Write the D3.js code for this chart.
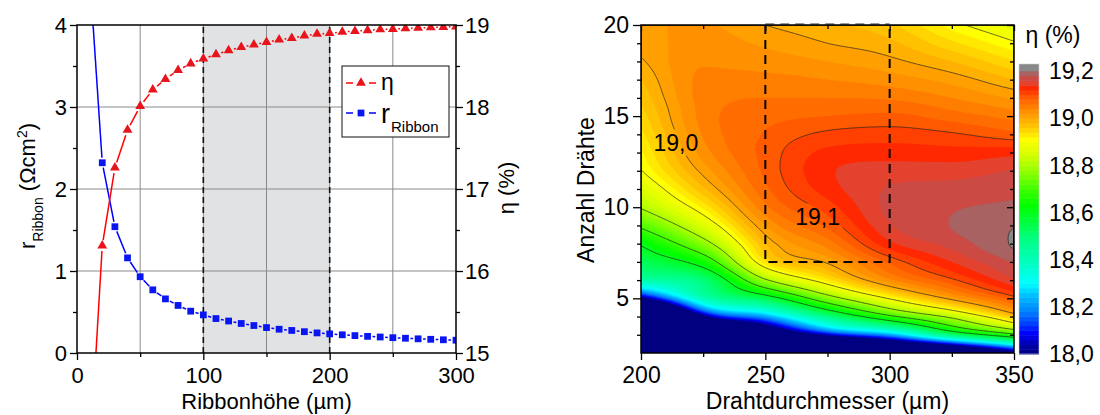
<!DOCTYPE html>
<html><head><meta charset="utf-8">
<script src="https://cdn.jsdelivr.net/npm/d3@7"></script>
<style>body{margin:0;background:#fff}svg{display:block;font-family:Arial,"Liberation Sans",sans-serif}</style>
</head><body><svg id="c" width="1100" height="415"></svg>
<script>
// ---------------- Left panel data ----------------
const ribbonHeights = [10,20,30,40,50,60,70,80,90,100,110,120,130,140,150,160,170,180,190,200,210,220,230,240,250,260,270,280,290,300];
const efficiency = [13.69,16.31,17.26,17.72,18.01,18.21,18.34,18.45,18.53,18.59,18.64,18.69,18.73,18.76,18.79,18.82,18.84,18.87,18.89,18.90,18.915,18.925,18.935,18.945,18.95,18.958,18.965,18.97,18.975,18.98];
const rRibbon = [4.63,2.32,1.54,1.16,0.93,0.77,0.66,0.58,0.51,0.465,0.42,0.39,0.36,0.335,0.31,0.29,0.275,0.26,0.245,0.233,0.222,0.212,0.203,0.195,0.187,0.18,0.173,0.167,0.161,0.156];
const leftXTicks = [0,100,200,300];
const leftXMinor = [50,150,250];
const leftYTicks = [0,1,2,3,4];
const leftYMinor = [0.5,1.5,2.5,3.5];
const etaAxisTicks = [15,16,17,18,19];
const etaAxisMinor = [15.5,16.5,17.5,18.5];
const shadedRange = [100,200];

// ---------------- Right panel data ----------------
const wireDiameters = [200,225,250,275,300,325,350];
const wireCounts = [2,3,4,5,6,7,8,9,10,11,12,13,14,15,16,17,18,19,20];
const eta_d200 = [13.0,15.3,16.9,17.98,18.42,18.53,18.61,18.715,18.805,18.855,18.898,18.917,18.934,18.95,18.965,18.98,18.997,19.008,19.018];
const eta_d225 = [15.8,17.0,17.97,18.4,18.5,18.645,18.77,18.86,18.925,18.975,19.008,19.03,19.042,19.048,19.048,19.044,19.038,19.03,19.022];
const eta_d250 = [16.8,17.7,18.22,18.55,18.79,18.935,18.98,19.02,19.055,19.075,19.085,19.087,19.082,19.072,19.06,19.046,19.031,19.016,19.0];
const eta_d275 = [16.9,18.05,18.48,18.76,18.93,19.005,19.05,19.085,19.11,19.13,19.136,19.125,19.105,19.08,19.06,19.04,19.02,19.0,18.985];
const eta_d300 = [17.4,18.22,18.68,18.905,19.035,19.085,19.135,19.158,19.166,19.162,19.15,19.13,19.11,19.085,19.057,19.03,19.006,18.985,18.965];
const eta_d325 = [17.6,18.5,18.82,19.01,19.095,19.14,19.168,19.181,19.178,19.168,19.15,19.128,19.103,19.07,19.04,19.012,18.98,18.945,18.91];
const eta_d350 = [17.95,18.68,18.97,19.09,19.158,19.183,19.203,19.199,19.184,19.175,19.162,19.133,19.086,19.052,19.017,18.98,18.942,18.904,18.868];
const contourLineLevels = [18.6,18.7,18.8,18.9,19.0,19.1,19.2];
const contourLabels = [{text:"19,0", d:214, n:13.55},{text:"19,1", d:271, n:9.5}];
const rightXTicks = [200,250,300,350];
const rightXMinor = [225,275,325];
const rightYTicks = [5,10,15,20];
const rightYMinor = [3,4,6,7,8,9,11,12,13,14,16,17,18,19];
const colorbarTicks = [18.0,18.2,18.4,18.6,18.8,19.0,19.2];
const highlightBox = {d0:250, d1:300, n0:7, n1:20};

// colour palette (value -> colour)
const paletteValues = [18.0,18.04,18.07,18.09,18.13,18.18,18.25,18.30,18.39,18.49,18.63,18.70,18.79,18.85,18.91,18.95,18.98,19.0,19.02,19.04,19.06,19.085,19.11,19.13,19.15,19.17,19.19];
const paletteColors = ["#000080","#0000a8","#0000e0","#0000ff","#0040ff","#0080ff","#00c0ff","#00ffff","#00ffc0","#00ff80","#00ff00","#40ff00","#a0ff00","#d8ff00","#ffff00","#ffd400","#ffb800","#ffa800","#ff9800","#ff8800","#ff7400","#ff6000","#ff4000","#ff2800","#e2422e","#cc4a44","#a86262"];
const overColor = "#888888";

const svg = d3.select("#c");
const FONT = 'Arial,"Liberation Sans",sans-serif';

// ================= LEFT PANEL =================
const xL = d3.scaleLinear([0,300],[77,456]);
const yL = d3.scaleLinear([0,4],[353,25]);
const yE = d3.scaleLinear([15,19],[353,25]);
const L = svg.append("g");
L.append("clipPath").attr("id","clipL").append("rect")
  .attr("x",xL(0)).attr("y",yL(4)).attr("width",xL(300)-xL(0)).attr("height",yL(0)-yL(4));
L.append("rect").attr("x",xL(shadedRange[0])).attr("y",yL(4))
  .attr("width",xL(shadedRange[1])-xL(shadedRange[0])).attr("height",yL(0)-yL(4)).attr("fill","#e1e2e4");
// grid
L.selectAll(".gx").data([50,100,150,200,250]).join("line")
  .attr("x1",d=>xL(d)).attr("x2",d=>xL(d)).attr("y1",yL(0)).attr("y2",yL(4)).attr("stroke","#8a8a8a").attr("stroke-width",1);
L.selectAll(".gy").data([1,2,3]).join("line")
  .attr("x1",xL(0)).attr("x2",xL(300)).attr("y1",d=>yL(d)).attr("y2",d=>yL(d)).attr("stroke","#8a8a8a").attr("stroke-width",1);
L.selectAll(".dl").data(shadedRange).join("line")
  .attr("x1",d=>xL(d)).attr("x2",d=>xL(d)).attr("y1",yL(0)).attr("y2",yL(4))
  .attr("stroke","#111").attr("stroke-width",1.6).attr("stroke-dasharray","6,4");

function gapSegments(pts, gap){
  const segs=[];
  for(let i=0;i<pts.length-1;i++){
    const [x1,y1]=pts[i],[x2,y2]=pts[i+1];
    const dx=x2-x1, dy=y2-y1, len=Math.hypot(dx,dy);
    if(len<=2*gap) continue;
    const ux=dx/len, uy=dy/len;
    segs.push([x1+ux*gap,y1+uy*gap,x2-ux*gap,y2-uy*gap]);
  }
  return segs;
}
const plotL = L.append("g").attr("clip-path","url(#clipL)");
const ptsE = ribbonHeights.map((h,i)=>[xL(h),yE(efficiency[i])]);
const ptsR = ribbonHeights.map((h,i)=>[xL(h),yL(rRibbon[i])]);
plotL.selectAll(".sr").data(gapSegments(ptsR,5)).join("line")
  .attr("x1",d=>d[0]).attr("y1",d=>d[1]).attr("x2",d=>d[2]).attr("y2",d=>d[3])
  .attr("stroke","#0000ff").attr("stroke-width",1.5);
plotL.selectAll(".se").data(gapSegments(ptsE,5.5)).join("line")
  .attr("x1",d=>d[0]).attr("y1",d=>d[1]).attr("x2",d=>d[2]).attr("y2",d=>d[3])
  .attr("stroke","#ff0000").attr("stroke-width",1.5);
const tri = d3.symbol(d3.symbolTriangle).size(42)();
const sq = d3.symbol(d3.symbolSquare).size(46)();
plotL.selectAll(".mr").data(ptsR).join("path").attr("d",sq)
  .attr("transform",d=>`translate(${d[0]},${d[1]})`).attr("fill","#0a16f2");
plotL.selectAll(".me").data(ptsE).join("path").attr("d",tri)
  .attr("transform",d=>`translate(${d[0]},${d[1]})`).attr("fill","#e8141c");

// legend
const lg = L.append("g");
lg.append("rect").attr("x",342).attr("y",66).attr("width",107).attr("height",71).attr("fill","#fff").attr("stroke","#111").attr("stroke-width",1);
[[83,"#ff0000","#e8141c",tri],[113,"#0000ff","#0a16f2",sq]].forEach(([y,lc,mc,sym])=>{
  lg.append("line").attr("x1",346).attr("x2",353).attr("y1",y).attr("y2",y).attr("stroke",lc).attr("stroke-width",1.5);
  lg.append("line").attr("x1",369).attr("x2",376).attr("y1",y).attr("y2",y).attr("stroke",lc).attr("stroke-width",1.5);
  lg.append("path").attr("d",sym).attr("transform",`translate(361,${y})`).attr("fill",mc);
});
lg.append("text").attr("x",381).attr("y",90).attr("font-size",23).text("η");
const lr = lg.append("text").attr("x",381).attr("y",123).attr("font-size",27);
lr.append("tspan").text("r");
lr.append("tspan").attr("font-size",15).attr("dy",9).attr("dx",1).text("Ribbon");

// frame & axes
L.append("rect").attr("x",xL(0)).attr("y",yL(4)).attr("width",xL(300)-xL(0)).attr("height",yL(0)-yL(4))
  .attr("fill","none").attr("stroke","#000").attr("stroke-width",1.5);
function styleAxis(g,fs){ g.select(".domain").remove(); g.selectAll("line").attr("stroke","#000").attr("stroke-width",1.3);
  g.selectAll("text").attr("font-size",fs).attr("font-family",FONT).attr("fill","#000"); }
L.append("g").attr("transform",`translate(0,${yL(0)})`).call(d3.axisBottom(xL).tickValues(leftXTicks).tickSize(7).tickPadding(7)).call(g=>styleAxis(g,22));
L.append("g").attr("transform",`translate(0,${yL(0)})`).call(d3.axisBottom(xL).tickValues(leftXMinor).tickSize(4).tickFormat("")).call(g=>styleAxis(g,22));
L.append("g").attr("transform",`translate(${xL(0)},0)`).call(d3.axisLeft(yL).tickValues(leftYTicks).tickSize(7).tickPadding(3).tickFormat(d3.format("d"))).call(g=>styleAxis(g,22));
L.append("g").attr("transform",`translate(${xL(0)},0)`).call(d3.axisLeft(yL).tickValues(leftYMinor).tickSize(4).tickFormat("")).call(g=>styleAxis(g,22));
L.append("g").attr("transform",`translate(${xL(300)},0)`).call(d3.axisRight(yE).tickValues(etaAxisTicks).tickSize(7).tickPadding(2).tickFormat(d3.format("d"))).call(g=>styleAxis(g,22));
L.append("g").attr("transform",`translate(${xL(300)},0)`).call(d3.axisRight(yE).tickValues(etaAxisMinor).tickSize(4).tickFormat("")).call(g=>styleAxis(g,22));
L.append("text").attr("x",xL(150)).attr("y",409).attr("text-anchor","middle").attr("font-size",22).text("Ribbonhöhe (µm)");
const yt = L.append("text").attr("transform","translate(35,186) rotate(-90)").attr("text-anchor","middle").attr("font-size",22);
yt.append("tspan").text("r");
yt.append("tspan").attr("font-size",14).attr("dy",8).text("Ribbon");
yt.append("tspan").attr("dy",-8).text(" (Ωcm");
yt.append("tspan").attr("font-size",14).attr("dy",-8).text("2");
yt.append("tspan").attr("dy",8).text(")");
L.append("text").attr("transform","translate(514,188) rotate(-90)").attr("text-anchor","middle").attr("font-size",22).text("η (%)");

// ================= RIGHT PANEL =================
const xR = d3.scaleLinear([200,350],[641,1014]);
const yR = d3.scaleLinear([2,20],[353,25]);
const cmap = d3.scaleLinear().domain(paletteValues).range(paletteColors).interpolate(d3.interpolateRgb).clamp(true);

// monotone cubic (Fritsch-Carlson) used only to render a smooth field between the read grid values
function monotone(ys){
  const n=ys.length, d=[], m=new Array(n);
  for(let i=0;i<n-1;i++) d[i]=ys[i+1]-ys[i];
  m[0]=d[0]; m[n-1]=d[n-2];
  for(let i=1;i<n-1;i++) m[i]=(d[i-1]*d[i]<=0)?0:(d[i-1]+d[i])/2;
  for(let i=0;i<n-1;i++){
    if(d[i]===0){m[i]=0;m[i+1]=0;continue;}
    const a=m[i]/d[i], b=m[i+1]/d[i], s=a*a+b*b;
    if(s>9){const t=3/Math.sqrt(s); m[i]=t*a*d[i]; m[i+1]=t*b*d[i];}
  }
  return t=>{
    const i=Math.min(n-2,Math.max(0,Math.floor(t))); const h=t-i,h2=h*h,h3=h2*h;
    return (2*h3-3*h2+1)*ys[i]+(h3-2*h2+h)*m[i]+(-2*h3+3*h2)*ys[i+1]+(h3-h2)*m[i+1];
  };
}
const columns = [eta_d200,eta_d225,eta_d250,eta_d275,eta_d300,eta_d325,eta_d350];
const NX=300, NY=360;
const nStep = wireCounts[1]-wireCounts[0], dStep = wireDiameters[1]-wireDiameters[0];
const colFns = columns.map(c=>monotone(c));
const colSamples = colFns.map(f=>d3.range(NY).map(j=>{
  const n = 20 - (j+0.5)*18/NY; return f((n-wireCounts[0])/nStep);
}));
const values = new Float64Array(NX*NY);
for(let j=0;j<NY;j++){
  const fr = monotone(colSamples.map(cs=>cs[j]));
  for(let i=0;i<NX;i++){
    const d = 200 + (i+0.5)*150/NX;
    values[j*NX+i] = fr((d-wireDiameters[0])/dStep);
  }
}
const gridProj = d3.geoPath(d3.geoTransform({point(x,y){ this.stream.point(xR(200+x*150/NX), yR(20-y*18/NY)); }}));
const R = svg.append("g");
R.append("clipPath").attr("id","clipR").append("rect")
  .attr("x",xR(200)).attr("y",yR(20)).attr("width",xR(350)-xR(200)).attr("height",yR(2)-yR(20));
const plotR = R.append("g").attr("clip-path","url(#clipR)");
plotR.append("rect").attr("x",xR(200)).attr("y",yR(20)).attr("width",xR(350)-xR(200)).attr("height",yR(2)-yR(20)).attr("fill","#000080");
const bandThr = d3.range(0,61).map(k=>+(18+0.02*k).toFixed(2));
const bands = d3.contours().size([NX,NY]).thresholds(bandThr)(values);
plotR.selectAll(".band").data(bands).join("path").attr("d",gridProj)
  .attr("fill",d=>d.value>=19.2-1e-9?overColor:cmap(d.value+0.01)).attr("stroke","none");
// label mask
const defs = R.append("defs");
const mask = defs.append("mask").attr("id","lblMask").attr("maskUnits","userSpaceOnUse")
  .attr("x",0).attr("y",0).attr("width",1100).attr("height",415);
mask.append("rect").attr("x",0).attr("y",0).attr("width",1100).attr("height",415).attr("fill","#fff");
contourLabels.forEach(l=>mask.append("rect").attr("x",xR(l.d)-25).attr("y",yR(l.n)-13).attr("width",50).attr("height",26).attr("fill","#000"));
const lines = d3.contours().size([NX,NY]).thresholds(contourLineLevels)(values);
plotR.append("g").attr("mask","url(#lblMask)").selectAll("path").data(lines).join("path").attr("d",gridProj)
  .attr("fill","none").attr("stroke","#222").attr("stroke-width",0.7);
R.selectAll(".clbl").data(contourLabels).join("text").attr("x",d=>xR(d.d)).attr("y",d=>yR(d.n)).attr("dy","0.36em")
  .attr("text-anchor","middle").attr("font-size",23).text(d=>d.text);
// highlight dashed box
R.append("path").attr("d",`M${xR(highlightBox.d0)},${yR(highlightBox.n1)}V${yR(highlightBox.n0)}H${xR(highlightBox.d1)}V${yR(highlightBox.n1)}`)
  .attr("fill","none").attr("stroke","#000").attr("stroke-width",2).attr("stroke-dasharray","9,6");
R.append("line").attr("x1",xR(highlightBox.d0)).attr("x2",xR(highlightBox.d1)).attr("y1",yR(20)-1).attr("y2",yR(20)-1)
  .attr("stroke","#999").attr("stroke-width",2).attr("stroke-dasharray","9,6");
// frame & axes
R.append("rect").attr("x",xR(200)).attr("y",yR(20)).attr("width",xR(350)-xR(200)).attr("height",yR(2)-yR(20))
  .attr("fill","none").attr("stroke","#000").attr("stroke-width",1.5);
R.append("g").attr("transform",`translate(0,${yR(2)})`).call(d3.axisBottom(xR).tickValues(rightXTicks).tickSize(7).tickPadding(7)).call(g=>styleAxis(g,23));
R.append("g").attr("transform",`translate(0,${yR(2)})`).call(d3.axisBottom(xR).tickValues(rightXMinor).tickSize(4).tickFormat("")).call(g=>styleAxis(g,23));
R.append("g").attr("transform",`translate(0,${yR(20)})`).call(d3.axisBottom(xR).tickValues(rightXTicks).tickSize(6).tickFormat("")).call(g=>styleAxis(g,23));
R.append("g").attr("transform",`translate(0,${yR(20)})`).call(d3.axisBottom(xR).tickValues(rightXMinor).tickSize(4).tickFormat("")).call(g=>styleAxis(g,23));
R.append("g").attr("transform",`translate(${xR(200)},0)`).call(d3.axisLeft(yR).tickValues(rightYTicks).tickSize(8).tickPadding(4)).call(g=>styleAxis(g,23));
R.append("g").attr("transform",`translate(${xR(200)},0)`).call(d3.axisLeft(yR).tickValues(rightYMinor).tickSize(4).tickFormat("")).call(g=>styleAxis(g,23));
R.append("g").attr("transform",`translate(${xR(350)},0)`).call(d3.axisLeft(yR).tickValues(rightYTicks).tickSize(7).tickFormat("")).call(g=>styleAxis(g,23));
R.append("g").attr("transform",`translate(${xR(350)},0)`).call(d3.axisLeft(yR).tickValues(rightYMinor).tickSize(4).tickFormat("")).call(g=>styleAxis(g,23));
R.append("text").attr("x",xR(275)).attr("y",409).attr("text-anchor","middle").attr("font-size",23).text("Drahtdurchmesser (µm)");
R.append("text").attr("transform","translate(594,190) rotate(-90)").attr("text-anchor","middle").attr("font-size",23).text("Anzahl Drähte");

// colour bar
const yC = d3.scaleLinear([18,19.2],[354,71]);
const cb = R.append("g");
const cbBands = d3.range(0,60).map(k=>+(18+0.02*k).toFixed(2));
cb.selectAll("rect").data(cbBands).join("rect").attr("x",1019).attr("width",20)
  .attr("y",d=>yC(d+0.02)).attr("height",d=>yC(d)-yC(d+0.02)+0.5).attr("fill",d=>cmap(d+0.01));
cb.append("rect").attr("x",1019).attr("width",20).attr("y",64).attr("height",yC(19.2)-64+0.3).attr("fill",overColor);
cb.append("rect").attr("x",1019).attr("width",20).attr("y",64).attr("height",yC(18)-64).attr("fill","none").attr("stroke","#ccc").attr("stroke-width",0.6);
cb.selectAll("text").data(colorbarTicks).join("text").attr("x",1049).attr("y",d=>yC(d)).attr("dy","0.36em")
  .attr("font-size",23).text(d=>d.toFixed(1).replace(".",","));
R.append("text").attr("x",1053).attr("y",43).attr("text-anchor","middle").attr("font-size",23).text("η (%)");
</script></body></html>
